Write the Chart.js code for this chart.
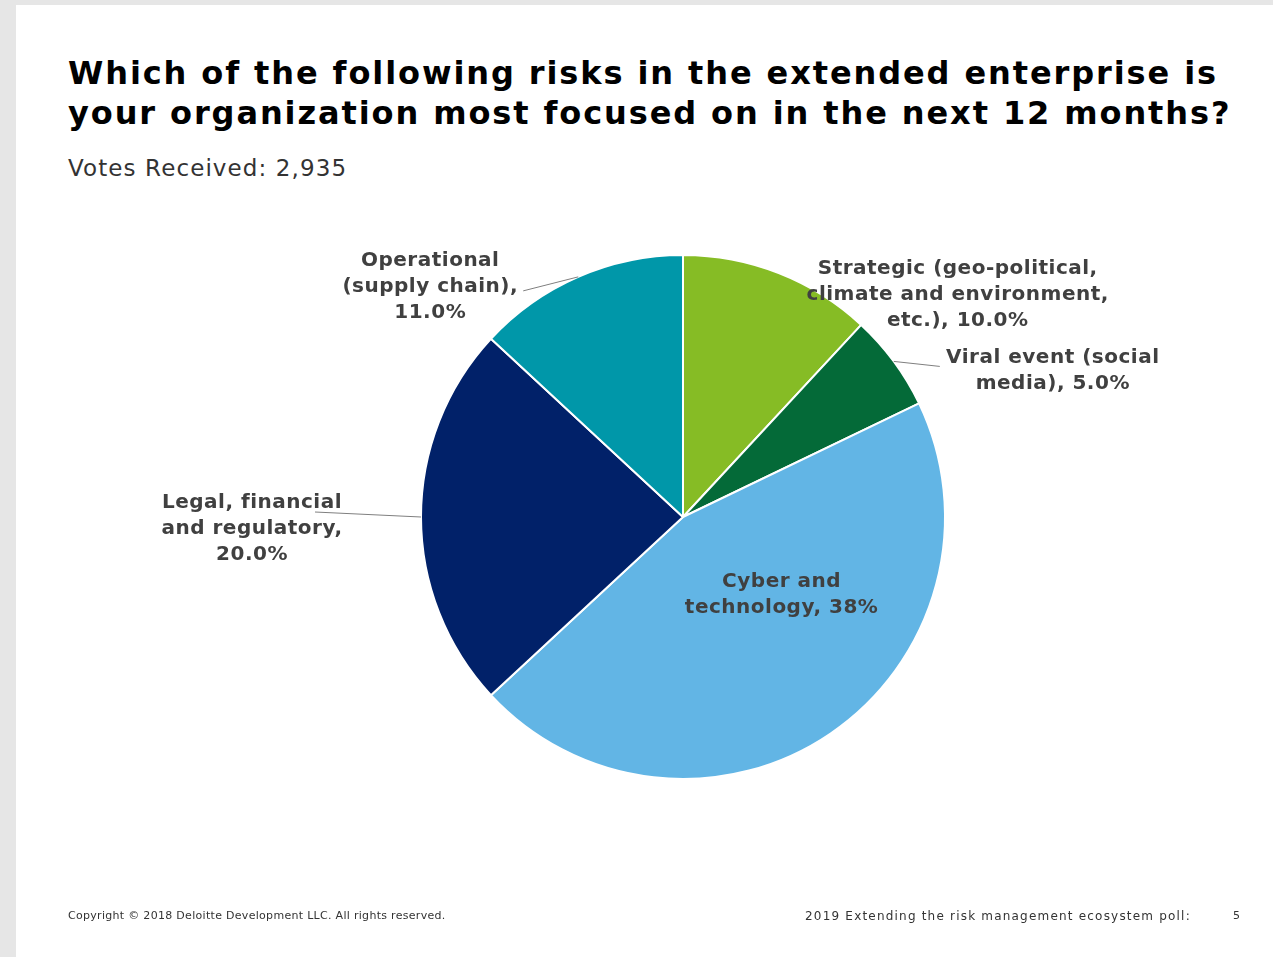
<!DOCTYPE html>
<html>
<head>
<meta charset="utf-8">
<script src="https://cdn.jsdelivr.net/npm/chart.js@4.4.1/dist/chart.umd.min.js"></script>
<style>
  html, body { margin: 0; padding: 0; }
  body { width: 1273px; height: 957px; background: #e6e6e6; position: relative; overflow: hidden; font-family: "DejaVu Sans", Verdana, sans-serif; }
  #slide { position: absolute; left: 16px; top: 5px; right: 0; bottom: 0; background: #fff; }
  #chartWrap { position: absolute; left: 0; top: 0; width: 1273px; height: 957px; }
  .title { position: absolute; left: 68px; top: 53px; font-weight: bold; font-size: 32px; line-height: 40px; letter-spacing: 1.9px; color: #000; white-space: nowrap; }
  .sub { position: absolute; left: 68px; top: 154px; font-size: 23px; line-height: 28px; letter-spacing: 1.1px; color: #333; white-space: nowrap; }
  .foot { position: absolute; top: 909px; font-size: 11px; line-height: 14px; color: #333; white-space: nowrap; }
</style>
</head>
<body>
<div id="slide"></div>
<div class="title">Which of the following risks in the extended enterprise is<br>your organization most focused on in the next 12 months?</div>
<div class="sub">Votes Received: 2,935</div>
<div id="chartWrap"><canvas id="pieChart" width="1273" height="957"></canvas></div>
<div class="foot" style="left:68px; letter-spacing:0.3px;">Copyright © 2018 Deloitte Development LLC. All rights reserved.</div>
<div class="foot" style="left:805px; font-size:12px; letter-spacing:1.2px;">2019 Extending the risk management ecosystem poll:</div>
<div class="foot" style="left:1233px;">5</div>

<script>
// Datos de la encuesta
const categories = [
    ["Strategic (geo-political,", "climate and environment,", "etc.), 10.0%"],
    ["Viral event (social", "media), 5.0%"],
    ["Cyber and", "technology, 38%"],
    ["Legal, financial", "and regulatory,", "20.0%"],
    ["Operational", "(supply chain),", "11.0%"]
];
const shares = [10, 5, 38, 20, 11];
const sliceColors = ["#86BC25", "#046A38", "#62B5E5", "#012169", "#0097A9"];

// Posición de las etiquetas respecto al borde de cada porción (px)
const labelOffset = [[179, 22], [159, 9], [-49, -139], [-169, 12], [-148, 10]];
const leaderEnd   = [null, [46, 5], null, [-106, -5], [-55, 14]];

const labelPlugin = {
    id: 'sliceLabels',
    afterDatasetsDraw(chart) {
        const c = chart.ctx;
        const arcs = chart.getDatasetMeta(0).data;
        c.save();
        c.font = 'bold 20px "DejaVu Sans"';
        c.letterSpacing = '0.5px';
        c.fillStyle = '#404040';
        c.textAlign = 'center';
        c.textBaseline = 'middle';
        arcs.forEach((arc, i) => {
            const mid = (arc.startAngle + arc.endAngle) / 2;
            const ax = arc.x + Math.cos(mid) * arc.outerRadius;
            const ay = arc.y + Math.sin(mid) * arc.outerRadius;
            if (leaderEnd[i]) {
                c.strokeStyle = '#7f7f7f';
                c.lineWidth = 1;
                c.beginPath();
                c.moveTo(ax, ay);
                c.lineTo(ax + leaderEnd[i][0], ay + leaderEnd[i][1]);
                c.stroke();
            }
            const lines = categories[i];
            const lh = 26;
            const cx = ax + labelOffset[i][0];
            const cy = ay + labelOffset[i][1];
            lines.forEach((t, k) => {
                c.fillText(t, cx, cy + (k - (lines.length - 1) / 2) * lh);
            });
        });
        c.restore();
    }
};

const ctx = document.getElementById('pieChart').getContext('2d');
new Chart(ctx, {
    type: 'pie',
    data: {
        labels: categories.map(l => l.join(' ')),
        datasets: [{
            data: shares,
            backgroundColor: sliceColors,
            borderColor: '#ffffff',
            borderWidth: 2
        }]
    },
    options: {
        responsive: false,
        animation: false,
        radius: 262,
        layout: { padding: { left: 100, right: 7, top: 200, bottom: 123 } },
        plugins: {
            legend: { display: false },
            tooltip: { enabled: false }
        }
    },
    plugins: [labelPlugin]
});
</script>
</body>
</html>
